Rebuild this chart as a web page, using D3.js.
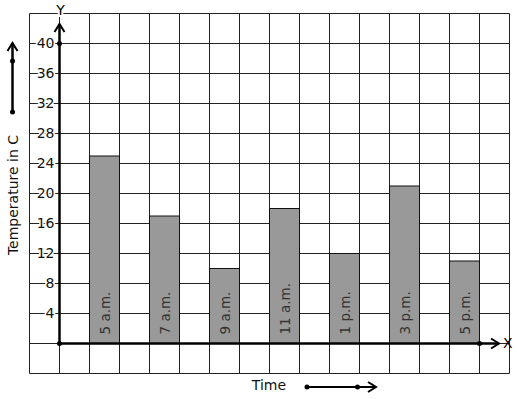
<!DOCTYPE html>
<head>
  <meta charset="utf-8">
  <script src="https://d3js.org/d3.v7.min.js"></script>
  <style>
    body { margin: 0; background: #fff; }
    svg { display: block; font-family: "DejaVu Sans", sans-serif; }
  </style>
</head>
<body>
  <svg width="517" height="399"></svg>
  <script>
    // chart data
    const times = ['5 a.m.', '7 a.m.', '9 a.m.', '11 a.m.', '1 p.m.', '3 p.m.', '5 p.m.'];
    const temps = [25, 17, 10, 18, 12, 21, 11];
    const yTicks = [4, 8, 12, 16, 20, 24, 28, 32, 36, 40];

    const svg = d3.select('svg');

    // x in grid-column units (origin = column 0), y in degrees
    const x = d3.scaleLinear().domain([-1, 15]).range([29.5, 509.5]);
    const y = d3.scaleLinear().domain([-4, 44]).range([373.5, 13.5]);

    // grid
    const grid = svg.append('g').attr('stroke', '#222').attr('stroke-width', 1);
    grid.selectAll('line.v')
      .data(d3.range(-1, 16))
      .join('line')
      .attr('x1', d => x(d)).attr('x2', d => x(d))
      .attr('y1', y(44)).attr('y2', y(-4));
    grid.selectAll('line.h')
      .data(d3.range(-4, 45, 4))
      .join('line')
      .attr('x1', x(-1)).attr('x2', x(15))
      .attr('y1', d => y(d)).attr('y2', d => y(d));

    // bars
    const bars = svg.append('g');
    bars.selectAll('rect')
      .data(temps)
      .join('rect')
      .attr('x', (d, i) => x(1 + 2 * i))
      .attr('width', x(2) - x(1))
      .attr('y', d => y(d))
      .attr('height', d => y(0) - y(d))
      .attr('fill', '#999')
      .attr('stroke', '#111')
      .attr('stroke-width', 1);

    bars.selectAll('text')
      .data(times)
      .join('text')
      .attr('transform', (d, i) => `translate(${x(1.5 + 2 * i) + 5},${y(0) - 9})rotate(-90)`)
      .attr('font-size', 13.5)
      .attr('fill', '#333')
      .text(d => d);

    // y tick labels with white backing
    const ticks = svg.append('g');
    ticks.selectAll('text')
      .data(yTicks)
      .join('text')
      .attr('x', x(0) - 5)
      .attr('y', d => y(d))
      .attr('dy', '0.35em')
      .attr('text-anchor', 'end')
      .attr('font-size', 14)
      .attr('fill', '#111')
      .attr('stroke', '#fff')
      .attr('stroke-width', 3)
      .attr('paint-order', 'stroke')
      .text(d => d);

    // axes with arrows
    function arrowHead(g, tx, ty, angle) {
      g.append('path')
        .attr('d', 'M-8,-5L0,0L-8,5')
        .attr('transform', `translate(${tx},${ty})rotate(${angle})`)
        .attr('fill', 'none')
        .attr('stroke', '#000')
        .attr('stroke-width', 2);
    }
    const axes = svg.append('g');
    axes.append('line')
      .attr('x1', x(0)).attr('x2', x(0))
      .attr('y1', y(0)).attr('y2', 24)
      .attr('stroke', '#000').attr('stroke-width', 2.5);
    arrowHead(axes, x(0), 24, -90);
    axes.append('line')
      .attr('x1', x(0)).attr('x2', 499)
      .attr('y1', y(0)).attr('y2', y(0))
      .attr('stroke', '#000').attr('stroke-width', 2.5);
    arrowHead(axes, 499, y(0), 0);

    axes.selectAll('circle')
      .data([[0, 0], [0, 40], [14, 0]])
      .join('circle')
      .attr('cx', d => x(d[0]))
      .attr('cy', d => y(d[1]))
      .attr('r', 2.5)
      .attr('fill', '#000');

    axes.append('text')
      .attr('x', x(0) + 1).attr('y', 10).attr('dy', '0.35em')
      .attr('text-anchor', 'middle').attr('font-size', 14)
      .attr('stroke', '#fff').attr('stroke-width', 4).attr('paint-order', 'stroke')
      .text('Y');
    axes.append('text')
      .attr('x', 503).attr('y', y(0)).attr('dy', '0.35em')
      .attr('font-size', 14)
      .text('X');

    // axis titles
    svg.append('text')
      .attr('transform', 'translate(18,195)rotate(-90)')
      .attr('text-anchor', 'middle')
      .attr('font-size', 14)
      .attr('fill', '#111')
      .text('Temperature in C');
    svg.append('text')
      .attr('x', 269).attr('y', 385).attr('dy', '0.35em')
      .attr('text-anchor', 'middle')
      .attr('font-size', 14)
      .attr('fill', '#111')
      .text('Time');

    // direction arrows beside the titles
    const side = svg.append('g');
    side.append('line')
      .attr('x1', 12.5).attr('x2', 12.5).attr('y1', 112).attr('y2', 43)
      .attr('stroke', '#000').attr('stroke-width', 2.5);
    arrowHead(side, 12.5, 43, -90);
    side.append('line')
      .attr('x1', 307).attr('x2', 376).attr('y1', 387).attr('y2', 387)
      .attr('stroke', '#000').attr('stroke-width', 2);
    arrowHead(side, 376, 387, 0);
    side.selectAll('circle')
      .data([[12.5, 112], [12.5, 61], [307, 387], [357.5, 387]])
      .join('circle')
      .attr('cx', d => d[0]).attr('cy', d => d[1])
      .attr('r', 2.5)
      .attr('fill', '#000');
  </script>
</body>
